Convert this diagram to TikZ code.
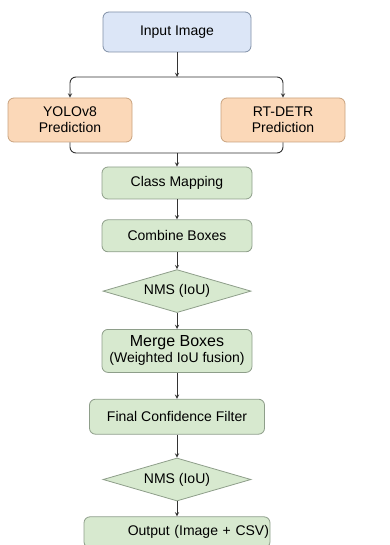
\documentclass[tikz,border=0pt]{standalone}
\usepackage{fontspec}
\setmainfont{Liberation Sans}
\usetikzlibrary{shapes.geometric, arrows}
\usetikzlibrary{positioning}
\definecolor{inblue}{HTML}{DCE6F7}
\definecolor{inblueline}{HTML}{7F8FA6}
\definecolor{predorange}{HTML}{FBD8B8}
\definecolor{predorangeline}{HTML}{C9A27E}
\definecolor{stepgreen}{HTML}{D7E9CF}
\definecolor{stepgreenline}{HTML}{8E9E8A}
\tikzstyle{inputbox} = [rectangle, rounded corners=6pt, minimum width=148pt, minimum
height=40pt, text centered, draw=inblueline, fill=inblue, line width=0.8pt]
\tikzstyle{predbox} = [rectangle, rounded corners=6pt, minimum width=124pt, minimum
height=44pt, align=center, draw=predorangeline, fill=predorange, line width=0.8pt]
\tikzstyle{process} = [rectangle, rounded corners=6pt, minimum width=150pt, minimum
height=32pt, align=center, draw=stepgreenline, fill=stepgreen, line width=0.8pt]
\tikzstyle{decision} = [diamond, shape aspect=3.44, minimum width=148pt, minimum height=43pt,
inner sep=0pt, text centered, draw=stepgreenline, fill=stepgreen, line width=0.8pt]
\tikzstyle{arrow} = [line width=0.9pt,->,>=stealth,draw=black!80]
\tikzstyle{line} = [line width=0.9pt,draw=black!80]
\begin{document}
\begin{tikzpicture}[x=1pt, y=1pt, font=\fontsize{14}{16}\selectfont]
    \useasboundingbox (0,0) rectangle (390,-545);
    \node (input) [inputbox] at (177,-32) {Input Image};
    \node (yolo) [predbox] at (70,-120) {YOLOv8\\Prediction};
    \node (rtdetr) [predbox] at (283,-120) {RT-DETR\\Prediction};
    \coordinate (split) at (177,-77);
    \coordinate (join) at (177,-153);
    \node (classmap) [process] at (177,-183) {Class Mapping};
    \node (combine) [process, below=20pt of classmap] {Combine Boxes};
    \node (nms1) [decision, below=17pt of combine] {NMS (IoU)};
    \node (merge) [process, below=16pt of nms1, minimum height=43pt]
        {{\fontsize{16}{18}\selectfont Merge Boxes}\\(Weighted IoU fusion)};
    \node (final) [process, below=26pt of merge, minimum width=175pt, minimum height=35pt]
        {Final Confidence Filter};
    \node (nms2) [decision, below=23pt of final] {NMS (IoU)};
    \node (output) [process, below=15pt of nms2, minimum width=186pt, minimum height=31pt,
        inner xsep=1pt, text width=184pt, align=right] {Output (Image + CSV)};

    \draw[arrow] (input) -- (split);
    \draw[arrow, rounded corners=6pt] (split) -| (yolo);
    \draw[arrow, rounded corners=6pt] (split) -| (rtdetr);
    \draw[line, rounded corners=6pt] (yolo.south) |- (join) -| (rtdetr.south);
    \draw[arrow] (join) -- (classmap);
    \draw[arrow] (classmap) -- (combine);
    \draw[arrow] (combine) -- (nms1);
    \draw[arrow] (nms1) -- (merge);
    \draw[arrow] (merge) -- (final);
    \draw[arrow] (final) -- (nms2);
    \draw[arrow] (nms2) -- (output);

\end{tikzpicture}
\end{document}
